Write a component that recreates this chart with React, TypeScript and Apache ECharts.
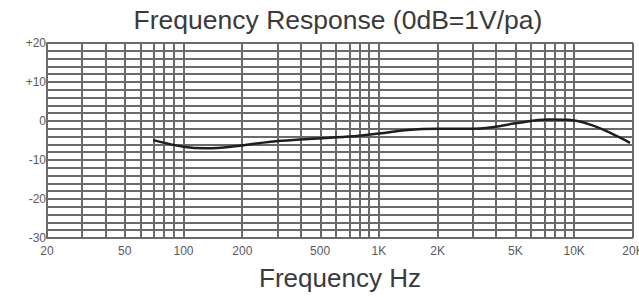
import React, { useEffect, useRef } from "react";
import * as echarts from "echarts";

const freqs = [70, 100, 130, 190, 280, 420, 700, 1000, 1400, 2000, 2900, 3800, 5000, 7400, 9300, 12200, 15500, 19300];
const levels = [-4.9, -6.6, -7.0, -6.4, -5.3, -4.7, -4.0, -3.2, -2.3, -2.0, -2.0, -1.6, -0.6, 0.4, 0.3, -1.0, -3.2, -5.6];
const xLabelFreqs = [20, 50, 100, 200, 500, 1000, 2000, 5000, 10000, 20000];
const gridFreqs = [
  30, 40, 50, 60, 70, 80, 90, 100,
  200, 300, 400, 500, 600, 700, 800, 900, 1000,
  2000, 3000, 4000, 5000, 6000, 7000, 8000, 9000, 10000,
];
const yMin = -30;
const yMax = 20;
const yStep = 2;

const fmtFreq = (f: number) => (f >= 1000 ? `${Math.round(f / 1000)}K` : `${Math.round(f)}`);

const FONT = "'Liberation Sans', Arial, sans-serif";

export default function App() {
  const ref = useRef<HTMLDivElement>(null);
  useEffect(() => {
    if (!ref.current) return;
    const chart = echarts.init(ref.current, null, { renderer: "svg" });
    const gridColor = "#6a6a6a";
    chart.setOption({
      animation: false,
      backgroundColor: "#ffffff",
      graphic: [
        {
          type: "text",
          x: 338,
          y: 20,
          style: {
            text: "Frequency Response (0dB=1V/pa)",
            fontSize: 26.5,
            fontFamily: FONT,
            fill: "#3a3a3a",
            textAlign: "center",
            textVerticalAlign: "middle",
          },
        },
      ],
      grid: {
        left: 47,
        right: 6,
        top: 43,
        bottom: 59,
        containLabel: false,
        outerBoundsMode: "none",
      },
      xAxis: {
        type: "value",
        min: Math.log10(20),
        max: Math.log10(20000),
        name: "Frequency Hz",
        nameLocation: "middle",
        nameGap: 27,
        nameTextStyle: {
          fontSize: 26,
          color: "#3a3a3a",
          fontFamily: FONT,
        },
        axisLine: { show: true, lineStyle: { color: gridColor, width: 2 } },
        axisTick: { show: false },
        splitLine: { show: false },
        axisLabel: {
          customValues: xLabelFreqs.map((f) => Math.log10(f)),
          formatter: (v: number) => fmtFreq(Math.pow(10, v)),
          color: "#5a5a5a",
          fontSize: 12,
          margin: 7,
          fontFamily: FONT,
          hideOverlap: false,
        },
      },
      yAxis: {
        type: "value",
        min: yMin,
        max: yMax,
        interval: yStep,
        axisLine: { show: true, lineStyle: { color: gridColor, width: 2 } },
        axisTick: { show: false },
        splitLine: { show: true, lineStyle: { color: gridColor, width: 2 } },
        axisLabel: {
          formatter: (v: number) => (v % 10 !== 0 ? "" : v > 0 ? `+${v}` : `${v}`),
          color: "#5a5a5a",
          fontSize: 12,
          margin: 1,
          fontFamily: FONT,
        },
      },
      series: [
        {
          type: "line",
          data: freqs.map((f, i) => [Math.log10(f), levels[i]]),
          smooth: 0.4,
          showSymbol: false,
          lineStyle: { color: "#1e1e1e", width: 2.5 },
          z: 5,
          markLine: {
            silent: true,
            symbol: ["none", "none"],
            label: { show: false },
            lineStyle: { color: gridColor, width: 2, type: "solid" },
            data: [...gridFreqs, 20000].map((f) => ({ xAxis: Math.log10(f) })),
          },
        },
      ],
    });
    return () => chart.dispose();
  }, []);
  return (
    <div
      ref={ref}
      style={{ position: "fixed", left: 0, top: 0, width: 639, height: 297 }}
    />
  );
}
